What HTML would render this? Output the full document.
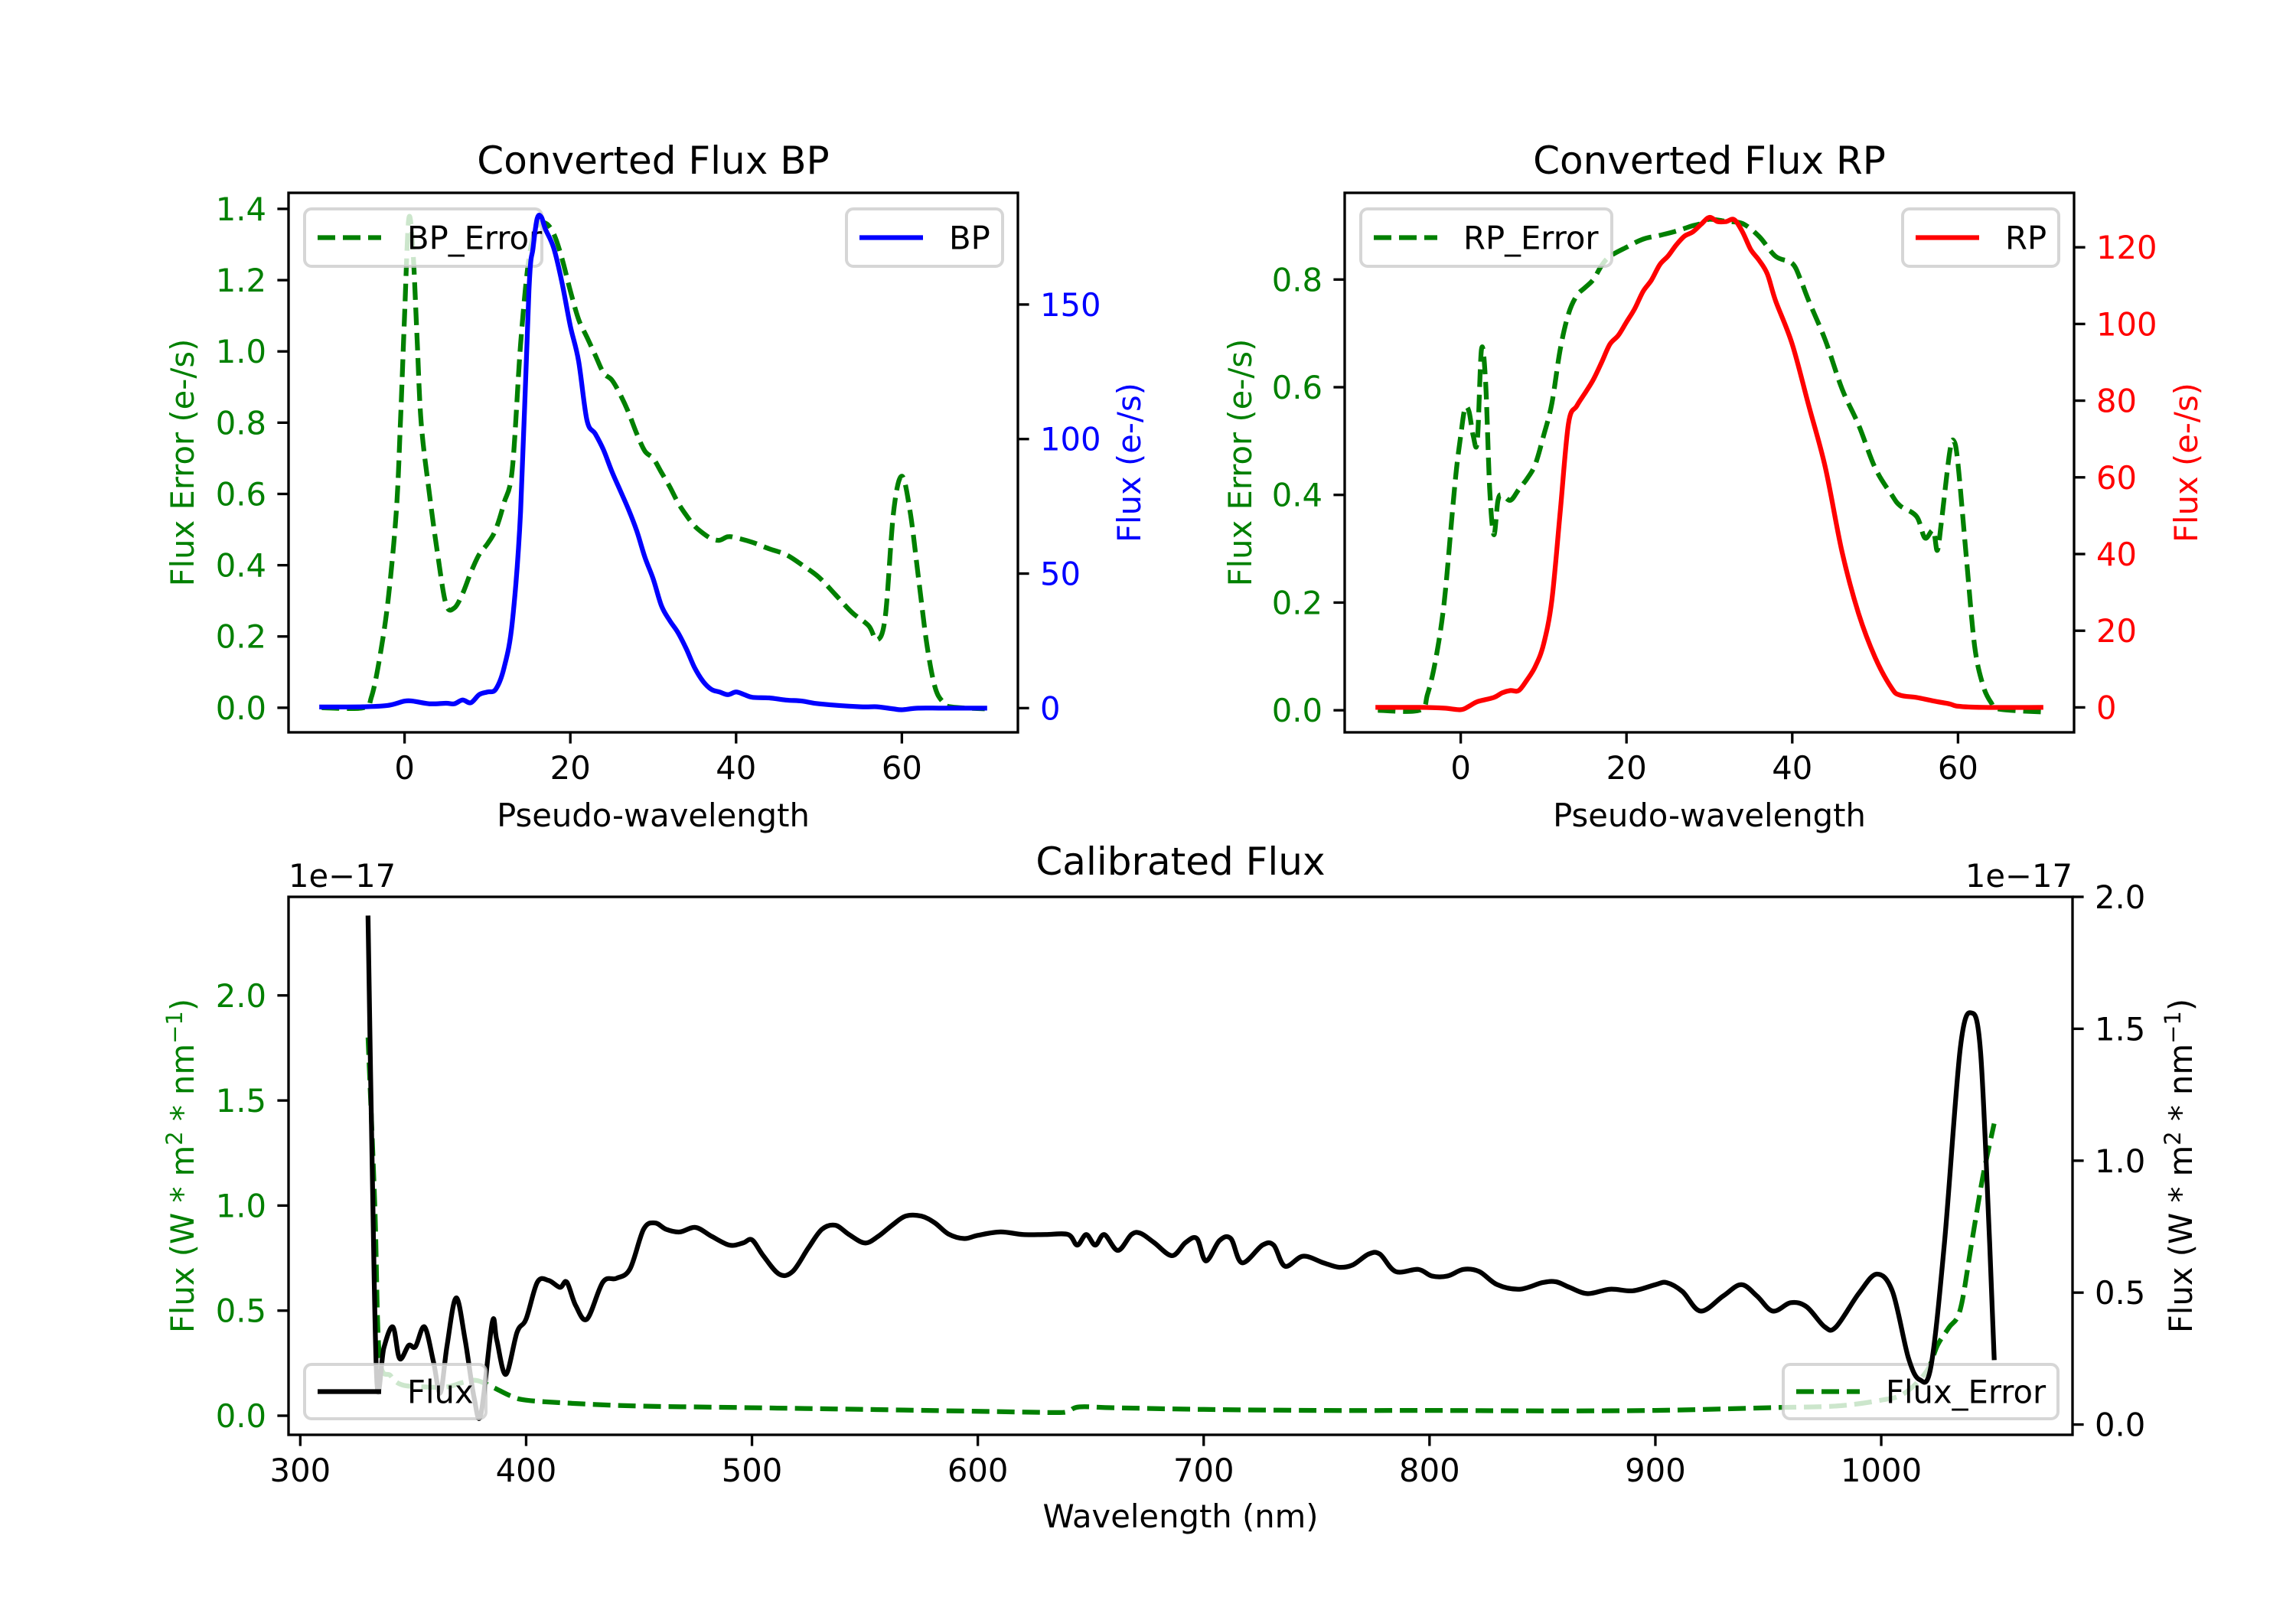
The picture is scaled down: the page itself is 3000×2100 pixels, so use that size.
<!DOCTYPE html>
<html><head><meta charset="utf-8">
<style>
html,body{margin:0;padding:0;background:#fff;}
svg{display:block;font-family:"DejaVu Sans","Liberation Sans",sans-serif;}
</style></head>
<body>
<svg id="fig" xmlns="http://www.w3.org/2000/svg" width="3000" height="2100" viewBox="0 0 3000 2100">
<rect width="3000" height="2100" fill="#fff"/>
</svg>
<script>
// ---- BP data ----
const bpX = [-10,-5,-2,0,1,3,5,6,7,8,9,10,11,12,13,14,15,15.5,16,16.5,17,18,19,20,21,22,23,24,25,26,27,28,29,30,31,32,33,34,35,36,37,38,39,40,41,42,44,46,48,50,55,57,59,60,62,65,70];
const bpFlux = [0.4,0.5,1,2.6,2.6,1.6,1.8,1.6,3,2,5,6,7,15,32,73,155,171,182,182.5,178,171,158,142,129,107,102,96,88,81,74,66,56,48,38,32.5,28,22,15,10,7,6,5,6,5,4,3.8,3,2.6,1.6,0.5,0.5,-0.3,-0.6,0,0,0];
const bpErrX = [-10,-5,-4,-3,-2,-1,-0.5,0,0.5,1,1.5,2,3,4,5,6,7,8,9,10,11,12,13,14,15,16,17,18,19,20,21,22,23,24,25,26,27,28,29,30,31,32,33,34,35,36,37,38,39,40,42,44,46,48,50,52,54,56,57,58,59,60,61,62,63,64,65,66,70];
const bpErr = [0,0,0.03,0.14,0.3,0.55,0.8,1.1,1.37,1.29,1.04,0.8,0.6,0.43,0.29,0.28,0.32,0.38,0.43,0.46,0.5,0.575,0.67,1.02,1.26,1.35,1.36,1.33,1.26,1.17,1.09,1.04,0.99,0.94,0.92,0.88,0.83,0.77,0.72,0.70,0.66,0.62,0.575,0.54,0.51,0.49,0.475,0.47,0.48,0.477,0.464,0.446,0.43,0.40,0.366,0.317,0.267,0.23,0.19,0.255,0.55,0.65,0.55,0.366,0.18,0.058,0.015,0.002,-0.003];
// ---- RP data ----
const rpX = [-10,-5,-2,0,1,2,4,5,6,7,8,9,10,11,12,13,14,15,16,17,18,19,20,21,22,23,24,25,26,27,28,29,30,31,32,33,34,35,36,37,38,40,42,44,46,48,50,52,53,55,57,59,60,63,70];
const rpFlux = [0,0,-0.2,-0.6,0.3,1.5,2.6,3.8,4.4,4.4,7.2,10.7,16.5,28,51,74,78.6,82,85.5,90,94.7,97,100.5,104,108.5,111.4,115.4,117.7,120.6,122.9,124,126,127.8,126.7,126.7,127.2,124,119.4,116.6,113,106,94.7,78.6,62.5,40.6,24.5,13,5,3.2,2.6,1.7,0.9,0.3,0,0];
const rpErrX = [-10,-5,-4,-3,-2,-1,-0.5,0,0.5,1,1.5,2,2.5,3,3.5,4,4.5,5,6,7,8,9,10,11,12,13,14,15,16,17,18,20,22,24,26,28,29,30,32,34,36,38,40,41,42,44,46,48,50,52,53,55,56,57,57.5,58,59,59.5,60,61,62,63,64,65,70];
const rpErr = [0,0,0.03,0.096,0.2,0.37,0.45,0.51,0.56,0.555,0.51,0.5,0.67,0.61,0.41,0.326,0.39,0.40,0.39,0.41,0.43,0.457,0.51,0.57,0.67,0.736,0.77,0.785,0.80,0.826,0.843,0.86,0.875,0.882,0.89,0.9,0.904,0.912,0.908,0.904,0.88,0.843,0.83,0.80,0.76,0.687,0.597,0.53,0.45,0.40,0.38,0.36,0.32,0.334,0.297,0.35,0.48,0.50,0.457,0.285,0.12,0.047,0.014,0.002,-0.003];
// ---- Calibrated data (units 1e-17) ----
const calX = [330,332,334,337,341,344,348,351,355,359,362,365,369,373,377,380,385,387,391,396,400,405,410,415,418,422,427,434,440,446,452,457,462,468,475,482,490,496,500,505,512,518,525,531,537,543,550,556,562,568,575,581,587,594,600,610,620,630,640,644,648,652,656,662,668,672,678,686,692,697,701,707,712,717,726,731,736,744,753,760,766,773,778,785,795,801,808,815,822,830,840,850,856,862,870,880,890,900,905,912,920,930,938,945,952,960,967,975,980,990,998,1005,1012,1017,1022,1028,1035,1040,1044,1048,1050];
const calFlux = [1.92,0.9,0.15,0.29,0.37,0.25,0.30,0.295,0.37,0.236,0.12,0.30,0.48,0.32,0.10,0.04,0.387,0.32,0.19,0.35,0.40,0.54,0.546,0.52,0.54,0.45,0.40,0.54,0.554,0.59,0.74,0.764,0.74,0.73,0.747,0.714,0.68,0.688,0.70,0.64,0.57,0.58,0.67,0.74,0.755,0.72,0.688,0.714,0.755,0.79,0.79,0.764,0.722,0.705,0.717,0.73,0.72,0.72,0.72,0.68,0.72,0.68,0.72,0.66,0.72,0.725,0.69,0.64,0.69,0.705,0.62,0.697,0.705,0.613,0.68,0.68,0.60,0.638,0.613,0.596,0.605,0.646,0.646,0.58,0.588,0.563,0.563,0.588,0.58,0.53,0.513,0.538,0.541,0.52,0.496,0.513,0.507,0.53,0.538,0.504,0.43,0.487,0.53,0.487,0.43,0.462,0.446,0.37,0.37,0.496,0.57,0.504,0.253,0.17,0.22,0.69,1.425,1.56,1.41,0.69,0.253];
const calErrX = [330,333,335,340,345,355,365,372,378,385,393,400,420,450,500,550,600,635,640,645,660,700,750,800,850,900,950,980,1000,1010,1020,1025,1030,1035,1040,1045,1050];
const calErr = [1.8,1.0,0.29,0.19,0.147,0.137,0.137,0.158,0.168,0.137,0.095,0.074,0.059,0.046,0.038,0.03,0.021,0.015,0.021,0.042,0.038,0.03,0.025,0.025,0.023,0.025,0.038,0.046,0.074,0.105,0.21,0.337,0.42,0.505,0.82,1.137,1.39];
// tick labels
const pwTicks = [0,20,40,60];
const bpErrTicks = ["0.0","0.2","0.4","0.6","0.8","1.0","1.2","1.4"];
const bpFluxTicks = [0,50,100,150];
const rpErrTicks = ["0.0","0.2","0.4","0.6","0.8"];
const rpFluxTicks = [0,20,40,60,80,100,120];
const wlTicks = [300,400,500,600,700,800,900,1000];
const calLeftTicks = ["0.0","0.5","1.0","1.5","2.0"];
const calRightTicks = ["0.0","0.5","1.0","1.5","2.0"];

const NS = "http://www.w3.org/2000/svg";
const svg = document.getElementById('fig');
const FS = 41.7, LW = 6.25;
function el(tag, attrs, parent, text) {
  const e = document.createElementNS(NS, tag);
  for (const k in attrs) e.setAttribute(k, attrs[k]);
  if (text !== undefined) e.textContent = text;
  (parent || svg).appendChild(e);
  return e;
}
function scale(d0, d1, p0, p1) { return v => p0 + (v - d0) * (p1 - p0) / (d1 - d0); }
let clipN = 0;
function makeAxes(name, L, R, T, B) {
  const id = 'clip' + (clipN++);
  const cp = el('clipPath', {id: id});
  el('rect', {x: L, y: T, width: R - L, height: B - T}, cp);
  const g = el('g', {});
  
  
  return {L, R, T, B, clip: id, g};
}
function smoothPath(P) {
  let d = 'M' + P[0][0].toFixed(1) + ',' + P[0][1].toFixed(1);
  const k = 1 / 6;
  for (let i = 0; i < P.length - 1; i++) {
    const p0 = P[Math.max(0, i - 1)], p1 = P[i], p2 = P[i + 1], p3 = P[Math.min(P.length - 1, i + 2)];
    let c1x = p1[0] + (p2[0] - p0[0]) * k, c1y = p1[1] + (p2[1] - p0[1]) * k;
    let c2x = p2[0] - (p3[0] - p1[0]) * k, c2y = p2[1] - (p3[1] - p1[1]) * k;
    // keep control x inside the segment to avoid loops
    c1x = Math.min(Math.max(c1x, p1[0]), p2[0]);
    c2x = Math.min(Math.max(c2x, p1[0]), p2[0]);
    d += ' C' + c1x.toFixed(1) + ',' + c1y.toFixed(1) + ' ' + c2x.toFixed(1) + ',' + c2y.toFixed(1) + ' ' + p2[0].toFixed(1) + ',' + p2[1].toFixed(1);
  }
  return d;
}
function line(ax, xs, ys, sx, sy, color, dashed, name) {
  const P = xs.map((x, i) => [sx(x), sy(ys[i])]);
  const p = el('path', {d: smoothPath(P), fill: 'none', stroke: color, 'stroke-width': LW,
    'stroke-linejoin': 'round', 'stroke-linecap': dashed ? 'butt' : 'square', 'clip-path': 'url(#' + ax.clip + ')'}, ax.g);
  if (dashed) p.setAttribute('stroke-dasharray', '23,10');
  
  
}
function text(x, y, s, opts, parent) {
  const a = {x, y, 'font-size': opts.size || FS, fill: opts.color || '#000', 'text-anchor': opts.anchor || 'start'};
  if (opts.rot) a.transform = 'rotate(-90 ' + x + ' ' + y + ')';
  const t = el('text', a, parent || svg, s);
  
  
  return t;
}
function xTicks(ax, vals, sx, labels) {
  vals.forEach((v, i) => {
    const x = sx(v);
    el('line', {x1: x, x2: x, y1: ax.B, y2: ax.B + 14.6, stroke: '#000', 'stroke-width': 3.33}, ax.g);
    text(x, ax.B + 61, labels ? labels[i] : String(v), {anchor: 'middle', name: 'x-tick-label'}, ax.g);
  });
}
function yTicks(ax, vals, sy, labels, side, color) {
  vals.forEach((v, i) => {
    const y = sy(v);
    const x0 = side === 'left' ? ax.L : ax.R;
    const dx = side === 'left' ? -14.6 : 14.6;
    el('line', {x1: x0, x2: x0 + dx, y1: y, y2: y, stroke: '#000', 'stroke-width': 3.33}, ax.g);
    text(side === 'left' ? x0 - 29 : x0 + 29, y + 15, labels[i], {anchor: side === 'left' ? 'end' : 'start', color, name: side + '-y-tick-label'}, ax.g);
  });
}
function frame(ax) {
  const r = el('rect', {x: ax.L, y: ax.T, width: ax.R - ax.L, height: ax.B - ax.T, fill: 'none', stroke: '#000', 'stroke-width': 3.33}, ax.g);
  
  
}
function legend(ax, x, y, w, h, color, dashed, label, name) {
  const g = el('g', {}, ax.g);
  
  
  el('rect', {x, y, width: w, height: h, rx: 9, fill: '#fff', 'fill-opacity': 0.8, stroke: '#cccccc', 'stroke-opacity': 0.8, 'stroke-width': 4}, g);
  const cy = y + h / 2;
  const l = el('line', {x1: x + 17, x2: x + 100, y1: cy, y2: cy, stroke: color, 'stroke-width': LW}, g);
  if (dashed) l.setAttribute('stroke-dasharray', '23,10');
  text(x + 134, cy + 15, label, {name: 'legend-label'}, g);
}
function ylabelMath(x, y, color, name) {
  const t = el('text', {x, y, 'font-size': FS, fill: color, 'text-anchor': 'middle', transform: 'rotate(-90 ' + x + ' ' + y + ')'});
  
  
  t.appendChild(document.createTextNode('Flux (W * m'));
  el('tspan', {'font-size': 29, dy: -15}, t, '2');
  el('tspan', {dy: 15}, t, ' * nm');
  el('tspan', {'font-size': 29, dy: -15}, t, '\u22121');
  el('tspan', {dy: 15}, t, ')');
}

// ===== BP =====
(function(){
  const ax = makeAxes('bp-chart', 377, 1330, 252, 957);
  const sx = scale(-14, 74, ax.L, ax.R);
  const syE = scale(-0.069, 1.445, ax.B, ax.T);
  const syF = scale(-9, 191.5, ax.B, ax.T);
  line(ax, bpErrX, bpErr, sx, syE, '#008000', true, 'bp-error-line');
  legend(ax, 398, 273, 310, 75, '#008000', true, 'BP_Error', 'bp-error-legend');
  line(ax, bpX, bpFlux, sx, syF, '#0000ff', false, 'bp-flux-line');
  legend(ax, 1106, 273, 204, 75, '#0000ff', false, 'BP', 'bp-legend');
  frame(ax);
  xTicks(ax, pwTicks, sx);
  yTicks(ax, bpErrTicks.map(Number), syE, bpErrTicks, 'left', '#008000');
  yTicks(ax, bpFluxTicks, syF, bpFluxTicks.map(String), 'right', '#0000ff');
  text((ax.L + ax.R) / 2, 227, 'Converted Flux BP', {anchor: 'middle', size: 50, name: 'bp-title'});
  text((ax.L + ax.R) / 2, 1080, 'Pseudo-wavelength', {anchor: 'middle', name: 'bp-x-axis-title'});
  text(253, (ax.T + ax.B) / 2, 'Flux Error (e-/s)', {anchor: 'middle', rot: true, color: '#008000', name: 'bp-left-y-axis-title'});
  text(1490, (ax.T + ax.B) / 2, 'Flux (e-/s)', {anchor: 'middle', rot: true, color: '#0000ff', name: 'bp-right-y-axis-title'});
})();

// ===== RP =====
(function(){
  const ax = makeAxes('rp-chart', 1757, 2710, 252, 957);
  const sx = scale(-14, 74, ax.L, ax.R);
  const syE = scale(-0.041, 0.961, ax.B, ax.T);
  const syF = scale(-6.5, 134.2, ax.B, ax.T);
  line(ax, rpErrX, rpErr, sx, syE, '#008000', true, 'rp-error-line');
  legend(ax, 1778, 273, 328, 75, '#008000', true, 'RP_Error', 'rp-error-legend');
  line(ax, rpX, rpFlux, sx, syF, '#ff0000', false, 'rp-flux-line');
  legend(ax, 2486, 273, 204, 75, '#ff0000', false, 'RP', 'rp-legend');
  frame(ax);
  xTicks(ax, pwTicks, sx);
  yTicks(ax, rpErrTicks.map(Number), syE, rpErrTicks, 'left', '#008000');
  yTicks(ax, rpFluxTicks, syF, rpFluxTicks.map(String), 'right', '#ff0000');
  text((ax.L + ax.R) / 2, 227, 'Converted Flux RP', {anchor: 'middle', size: 50, name: 'rp-title'});
  text((ax.L + ax.R) / 2, 1080, 'Pseudo-wavelength', {anchor: 'middle', name: 'rp-x-axis-title'});
  text(1635, (ax.T + ax.B) / 2, 'Flux Error (e-/s)', {anchor: 'middle', rot: true, color: '#008000', name: 'rp-left-y-axis-title'});
  text(2871, (ax.T + ax.B) / 2, 'Flux (e-/s)', {anchor: 'middle', rot: true, color: '#ff0000', name: 'rp-right-y-axis-title'});
})();

// ===== Calibrated =====
(function(){
  const ax = makeAxes('calibrated-chart', 377, 2708, 1172, 1875);
  const sx = scale(294.8, 1084.7, ax.L, ax.R);
  const syE = scale(-0.091, 2.469, ax.B, ax.T);
  const syF = scale(-0.039, 2.0, ax.B, ax.T);
  line(ax, calErrX, calErr, sx, syE, '#008000', true, 'flux-error-line');
  legend(ax, 2330, 1783, 359, 71, '#008000', true, 'Flux_Error', 'flux-error-legend');
  line(ax, calX, calFlux, sx, syF, '#000000', false, 'flux-line');
  legend(ax, 398, 1783, 237, 71, '#000000', false, 'Flux', 'flux-legend');
  frame(ax);
  xTicks(ax, wlTicks, sx);
  yTicks(ax, calLeftTicks.map(Number), syE, calLeftTicks, 'left', '#008000');
  yTicks(ax, calRightTicks.map(Number), syF, calRightTicks, 'right', '#000000');
  text((ax.L + ax.R) / 2, 1143, 'Calibrated Flux', {anchor: 'middle', size: 50, name: 'calibrated-title'});
  text(ax.L, 1159, '1e\u221217', {name: 'left-offset-text'});
  text(ax.R, 1159, '1e\u221217', {anchor: 'end', name: 'right-offset-text'});
  text((ax.L + ax.R) / 2, 1996, 'Wavelength (nm)', {anchor: 'middle', name: 'calibrated-x-axis-title'});
  ylabelMath(253, (ax.T + ax.B) / 2, '#008000', 'calibrated-left-y-axis-title');
  ylabelMath(2864, (ax.T + ax.B) / 2, '#000000', 'calibrated-right-y-axis-title');
})();
</script>
</body></html>
